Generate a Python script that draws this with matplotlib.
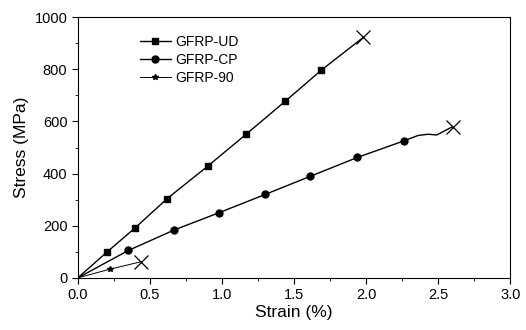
import matplotlib.pyplot as plt
from matplotlib.ticker import MultipleLocator

plt.rcParams['font.family'] = ['Liberation Sans', 'DejaVu Sans']

# stress-strain curves, strain in %, stress in MPa
ud_strain = [0.0, 0.20, 0.40, 0.62, 0.90, 1.17, 1.44, 1.69, 1.98]
ud_stress = [0, 98, 193, 304, 428, 552, 678, 797, 922]
ud_marks = [1, 2, 3, 4, 5, 6, 7]

cp_strain = [0.0, 0.35, 0.67, 0.98, 1.30, 1.61, 1.94, 2.26, 2.36, 2.43, 2.49, 2.60]
cp_stress = [0, 105, 184, 250, 320, 389, 462, 525, 546, 551, 548, 580]
cp_marks = [1, 2, 3, 4, 5, 6, 7]

s90_strain = [0.0, 0.22, 0.44]
s90_stress = [0, 33, 62]
s90_marks = [1]

f, ax = plt.subplots(figsize=(5.26, 3.3), dpi=100)
f.subplots_adjust(left=0.148, right=0.970, bottom=0.158, top=0.948)

ax.plot(ud_strain, ud_stress, color='black', lw=1.0, marker='s', ms=5,
        markevery=ud_marks, label='GFRP-UD')
ax.plot(cp_strain, cp_stress, color='black', lw=1.0, marker='o', ms=5,
        markevery=cp_marks, label='GFRP-CP')
ax.plot(s90_strain, s90_stress, color='black', lw=0.7, marker='*', ms=4,
        markevery=s90_marks, label='GFRP-90')

# failure points
for xs, ys in [(ud_strain, ud_stress), (cp_strain, cp_stress), (s90_strain, s90_stress)]:
    ax.plot(xs[-1], ys[-1], marker='x', color='black', ms=10, mew=0.9, ls='none')

ax.set_xlim(0, 3.0)
ax.set_ylim(0, 1000)
ax.xaxis.set_major_locator(MultipleLocator(0.5))
ax.xaxis.set_minor_locator(MultipleLocator(0.25))
ax.yaxis.set_major_locator(MultipleLocator(200))
ax.yaxis.set_minor_locator(MultipleLocator(100))
ax.tick_params(which='major', direction='out', length=4, labelsize=10.5)
ax.tick_params(which='minor', direction='out', length=2)
ax.xaxis.set_major_formatter(plt.FuncFormatter(lambda v, p: '%.1f' % v))
ax.set_xlabel('Strain (%)', fontsize=12.5, labelpad=2)
ax.set_ylabel('Stress (MPa)', fontsize=12.5, labelpad=4)

ax.legend(loc='upper left', bbox_to_anchor=(0.115, 0.98), frameon=False,
          fontsize=10, handlelength=2.2, handletextpad=0.3, labelspacing=0.3)

plt.savefig('out.png')
